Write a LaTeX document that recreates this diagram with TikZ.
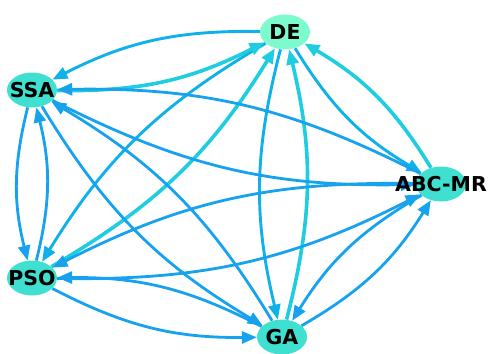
\documentclass[tikz,border=0pt]{standalone}
\usepackage{fontspec}
\setmainfont{DejaVu Sans}
\usetikzlibrary{arrows.meta, shapes.geometric, backgrounds}
\definecolor{aqua}{HTML}{7DFBCF}
\definecolor{turq}{HTML}{40E0D0}
\definecolor{edgeblue}{HTML}{16A2EE}
\definecolor{deblue}{HTML}{10B0EA}
\definecolor{decyan}{HTML}{1FCDE0}

\begin{document}
\begin{tikzpicture}[
  x=1pt, y=-1pt,
  algnode/.style={ellipse, fill=turq, minimum width=50pt, minimum height=35pt,
    inner sep=0pt},
  nodelbl/.style={font=\fontsize{20.5}{24}\selectfont\bfseries, text=black, inner sep=0pt},
  link/.style={draw=edgeblue, line width=2.8pt, bend right=14,
    -{Triangle[length=15pt, width=12pt]}},
  fromde/.style={link, draw=deblue, line width=2.9pt},
  intode/.style={link, draw=decyan, line width=3.6pt},
]

\useasboundingbox (0,0) rectangle (489,353);

% === Algorithms ===
\node[algnode, fill=aqua, label={[nodelbl]center:DE}] (de) at (285,32) {};
\node[algnode, label={[nodelbl]center:SSA}] (ssa) at (32,90) {};
\node[algnode, label={[nodelbl]center:ABC-MR}] (abc) at (441,184) {};
\node[algnode, label={[nodelbl]center:PSO}] (pso) at (32,278) {};
\node[algnode, label={[nodelbl]center:GA}] (ga) at (282,337) {};

\begin{pgfonlayer}{background}
% === Out of DE ===
\draw[fromde] (de) to (ssa);
\draw[fromde] (de) to (pso);
\draw[fromde] (de) to (ga);
\draw[fromde] (de) to (abc);

% === Into DE ===
\draw[intode] (ssa) to (de);
\draw[intode] (pso) to (de);
\draw[intode] (ga) to (de);
\draw[intode] (abc) to (de);

% === SSA ===
\draw[link] (ssa) to (pso);
\draw[link] (pso) to (ssa);
\draw[link] (ssa) to (abc);
\draw[link] (abc) to (ssa);
\draw[link] (ssa) to (ga);
\draw[link] (ga) to (ssa);

% === PSO / GA / ABC-MR ===
\draw[link] (pso) to (ga);
\draw[link] (ga) to (pso);
\draw[link] (pso) to (abc);
\draw[link] (abc) to (pso);
\draw[link] (ga) to (abc);
\draw[link] (abc) to (ga);
\end{pgfonlayer}

\end{tikzpicture}
\end{document}
